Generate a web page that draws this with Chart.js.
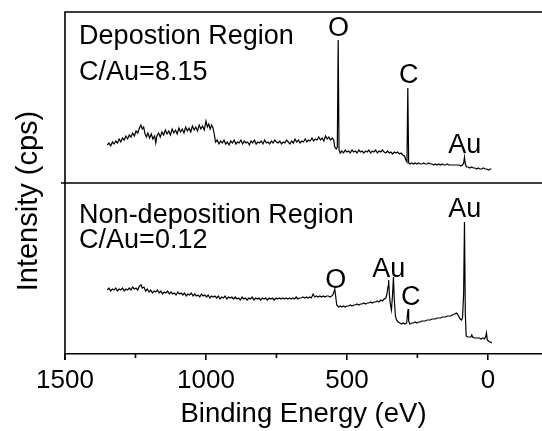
<!DOCTYPE html>
<html>
<head>
<meta charset="utf-8">
<script src="https://cdn.jsdelivr.net/npm/chart.js@4.4.1/dist/chart.umd.min.js"></script>
<style>
  html, body { margin: 0; padding: 0; background: #fff; }
  #wrap { position: relative; width: 542px; height: 431px; }
</style>
</head>
<body>
<div id="wrap"><canvas id="c" width="542" height="431"></canvas></div>
<script>
// ---- Data (binding energy in eV, intensity in arbitrary units) ----
const depositionEnergy = [1350,1344,1338,1332,1326,1320,1314,1308,1302,1296,1290,1284,1278,1272,1266,1260,1254,1248,1242,1236,1231,1226,1221,1216,1211,1206,1200,1194,1188,1182,1178,1174,1168,1162,1156,1150,1144,1138,1132,1126,1120,1114,1108,1102,1096,1090,1084,1078,1072,1066,1060,1054,1048,1042,1036,1030,1024,1018,1012,1006,1000,995,990,985,980,975,970,966,960,954,948,942,936,930,924,918,912,906,900,894,888,882,876,870,864,858,852,846,840,834,828,822,816,810,804,798,792,786,780,774,768,762,756,750,744,738,732,726,720,714,708,702,696,690,684,678,672,666,660,654,648,642,636,630,624,618,612,606,600,594,588,582,576,570,564,558,552,547,543,538,534,531,528,524,518,512,506,500,494,488,482,476,470,464,458,452,446,440,434,428,422,416,410,404,398,392,386,380,374,368,362,356,350,344,338,332,326,320,314,308,302,296,291,287,284,281,276,270,264,258,252,246,240,234,228,222,216,210,204,198,192,186,180,174,168,162,156,150,144,138,132,126,120,114,108,102,96,90,86,83,80,76,70,64,58,52,46,40,34,28,22,16,10,4,-2,-8,-13];
const depositionIntensity = [38,40,37,41,39,42,40,44,41,45,43,47,44,48,46,50,47,52,50,55,58,54,56,49,46,50,45,49,44,47,40,47,50,46,51,48,53,49,52,48,54,50,53,49,55,51,54,50,56,52,55,51,57,53,56,52,58,54,57,53,62,56,59,54,58,55,48,41,43,39,42,40,43,39,41,38,42,40,43,39,41,40,43,39,42,40,41,38,42,40,43,39,41,40,42,39,43,40,41,39,42,40,43,41,40,42,39,41,40,43,41,39,42,40,44,41,43,40,42,41,44,41,43,42,45,42,44,43,46,43,45,42,47,44,46,43,45,43,36,34,36,143,33,30,32,30,33,31,32,30,33,31,32,30,33,31,32,30,32,31,33,30,32,31,33,30,32,31,33,31,30,32,30,31,29,31,30,31,29,30,28,27,23,21,95,20,19,20,19,20,19,20,19,19,20,19,19,20,19,19,18,19,18,19,18,19,18,18,19,18,18,18,18,18,18,18,17,18,20,26,19,16,16,15,16,15,15,14,15,14,14,15,14,14,13,14,14];

const nonDepositionEnergy = [1350,1344,1338,1332,1326,1320,1314,1308,1302,1296,1290,1284,1278,1272,1266,1260,1254,1248,1242,1236,1230,1226,1220,1214,1208,1202,1196,1190,1184,1178,1172,1166,1160,1154,1148,1142,1136,1130,1124,1118,1112,1106,1100,1094,1088,1082,1076,1070,1064,1058,1052,1046,1040,1034,1028,1022,1016,1010,1004,998,992,986,980,974,968,962,956,950,944,938,932,926,920,914,908,902,896,890,884,878,872,866,860,854,848,842,836,830,824,818,812,806,800,794,788,782,776,770,764,758,752,746,740,734,728,722,716,710,704,698,692,686,680,674,668,662,656,650,644,638,632,626,620,614,608,602,596,590,584,578,572,566,560,554,550,546,543,540,536,530,524,518,512,506,500,494,488,482,476,470,464,458,452,446,440,434,428,422,416,410,404,398,392,386,380,374,368,362,358,354,352,349,346,342,338,335,332,328,324,318,312,306,300,294,288,285,283,281,277,271,264,258,252,246,240,234,228,222,216,210,204,198,192,186,180,174,168,162,156,150,144,138,132,126,120,116,112,108,104,98,94,90,86,83,80,77,72,66,60,57,54,48,42,36,30,24,18,12,8,5,2,-2,-6,-10,-14];
const nonDepositionIntensity = [64,66,63,65,64,66,63,65,64,66,63,65,64,66,64,67,65,66,64,68,69,66,67,63,65,62,64,61,63,62,64,61,63,60,62,61,63,60,62,60,61,59,62,60,61,59,61,58,60,59,61,58,60,58,59,57,60,58,59,57,59,56,58,57,58,56,58,55,57,56,58,55,57,56,57,55,57,55,56,54,57,55,56,54,56,55,57,54,56,55,56,54,56,55,56,54,56,55,56,54,56,55,56,55,56,55,56,55,56,55,56,55,57,55,56,56,57,56,57,56,57,56,60,57,58,57,58,57,58,57,58,58,57,58,59,62,65,58,49,47,48,47,48,47,48,48,49,48,49,49,50,49,50,50,51,50,51,51,52,51,52,52,53,52,54,53,55,56,60,68,74,58,50,44,60,77,55,38,34,32,31,30,31,30,31,40,45,33,30,31,31,32,31,32,32,33,33,33,34,34,34,35,35,35,36,36,36,37,37,37,38,38,38,39,40,40,41,40,38,35,34,36,60,132,40,18,17,17,17,19,17,16,16,16,16,15,16,15,17,21,14,13,12,12,11];

const xTickValues = [1500, 1250, 1000, 750, 500, 250, 0];
const xTickLabels = ['1500', '', '1000', '', '500', '', '0'];

const topLabels = ['Depostion Region', 'C/Au=8.15', 'O', 'C', 'Au'];
const bottomLabels = ['Non-deposition Region', 'C/Au=0.12', 'Au', 'Au', 'O', 'C'];
</script>
<script>
// Annotation anchors in data units (energy, intensity) and alignment
const topLabelAnchors = [
  {x: 1450, y: 139, align: 'left'},
  {x: 1450, y: 103, align: 'left'},
  {x: 530, y: 147, align: 'center'},
  {x: 281, y: 100, align: 'center'},
  {x: 82, y: 30, align: 'center'}
];
const bottomLabelAnchors = [
  {x: 1450, y: 131, align: 'left'},
  {x: 1450, y: 106, align: 'left'},
  {x: 82, y: 137, align: 'center'},
  {x: 352, y: 77, align: 'center'},
  {x: 540, y: 66, align: 'center'},
  {x: 274, y: 49, align: 'center'}
];

const FONT = '"Liberation Sans", Arial, sans-serif';

function toPoints(xs, ys) { return xs.map((x, i) => ({x: x, y: ys[i]})); }

const framePlugin = {
  id: 'frame',
  afterDraw(chart) {
    const ctx = chart.ctx;
    const a = chart.chartArea;
    const yT = chart.scales.yTop, yB = chart.scales.yBot;
    const xs = chart.scales.x;
    ctx.save();
    ctx.strokeStyle = '#000';
    ctx.lineWidth = 1.6;
    ctx.beginPath();
    ctx.moveTo(a.left, a.bottom + 6);
    ctx.lineTo(a.left, a.top);
    ctx.lineTo(a.right + 2, a.top);
    ctx.moveTo(a.left - 4, yT.bottom);
    ctx.lineTo(a.right + 2, yT.bottom);
    // minor ticks (shorter)
    xTickValues.forEach((v, i) => {
      if (xTickLabels[i] === '') {
        const px = xs.getPixelForValue(v);
        ctx.moveTo(px, a.bottom);
        ctx.lineTo(px, a.bottom + 4);
      }
    });
    ctx.stroke();
    // annotations
    ctx.fillStyle = '#000';
    ctx.font = '27px ' + FONT;
    ctx.textBaseline = 'alphabetic';
    topLabels.forEach((t, i) => {
      const p = topLabelAnchors[i];
      ctx.textAlign = p.align;
      ctx.fillText(t, xs.getPixelForValue(p.x), yT.getPixelForValue(p.y));
    });
    bottomLabels.forEach((t, i) => {
      const p = bottomLabelAnchors[i];
      ctx.textAlign = p.align;
      ctx.fillText(t, xs.getPixelForValue(p.x), yB.getPixelForValue(p.y));
    });
    // y axis title
    ctx.save();
    ctx.font = '29px ' + FONT;
    ctx.translate(36.5, (a.top + a.bottom) / 2 + 18);
    ctx.rotate(-Math.PI / 2);
    ctx.textAlign = 'center';
    ctx.textBaseline = 'alphabetic';
    ctx.fillText('Intensity (cps)', 0, 0);
    ctx.restore();
    ctx.restore();
  }
};

new Chart(document.getElementById('c'), {
  type: 'line',
  data: {
    datasets: [
      {
        label: 'Deposition Region',
        data: toPoints(depositionEnergy, depositionIntensity),
        yAxisID: 'yTop',
        borderColor: '#000',
        borderWidth: 1.2,
        pointRadius: 0,
        tension: 0,
        fill: false
      },
      {
        label: 'Non-deposition Region',
        data: toPoints(nonDepositionEnergy, nonDepositionIntensity),
        yAxisID: 'yBot',
        borderColor: '#000',
        borderWidth: 1.2,
        pointRadius: 0,
        tension: 0,
        fill: false
      }
    ]
  },
  options: {
    responsive: false,
    animation: false,
    devicePixelRatio: 1,
    layout: { padding: { top: 12, left: 0, right: 0, bottom: 0 } },
    plugins: { legend: { display: false }, tooltip: { enabled: false } },
    scales: {
      x: {
        type: 'linear',
        reverse: true,
        min: -192,
        max: 1500,
        afterBuildTicks(s) { s.ticks = xTickValues.map(v => ({value: v})); },
        afterFit(s) { s.height = 77; },
        ticks: {
          autoSkip: false,
          maxRotation: 0,
          color: '#000',
          padding: 5,
          font: { family: FONT, size: 26 },
          callback(v) { const i = xTickValues.indexOf(v); return i >= 0 ? xTickLabels[i] : ''; }
        },
        grid: {
          drawOnChartArea: false, drawTicks: true, tickLength: 6, lineWidth: 1.6,
          color(c) { const i = xTickValues.indexOf(c.tick && c.tick.value); return (i >= 0 && xTickLabels[i] !== '') ? '#000' : 'rgba(0,0,0,0)'; }
        },
        border: { display: true, color: '#000', width: 1.6 },
        title: { display: true, text: 'Binding Energy (eV)', color: '#000', font: { family: FONT, size: 27.5 }, padding: { top: 3, bottom: 0 } }
      },
      yBot: {
        type: 'linear',
        position: 'left',
        stack: 'panels',
        stackWeight: 1,
        min: 0,
        max: 171,
        afterFit(s) { s.width = 65; },
        ticks: { display: false },
        grid: { display: false },
        border: { display: false }
      },
      yTop: {
        type: 'linear',
        position: 'left',
        stack: 'panels',
        stackWeight: 1,
        min: 0,
        max: 171,
        afterFit(s) { s.width = 65; },
        ticks: { display: false },
        grid: { display: false },
        border: { display: false }
      }
    }
  },
  plugins: [framePlugin]
});
</script>
</body>
</html>
